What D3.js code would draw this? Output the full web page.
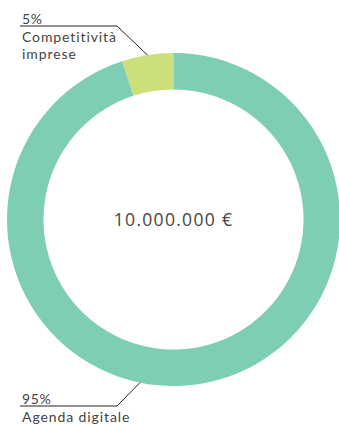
<!DOCTYPE html>
<html><head><meta charset="utf-8">
<script src="https://cdn.jsdelivr.net/npm/d3@7"></script>
<style>body{margin:0;background:#fff}svg{display:block}text{font-family:"Open Sans",Lato,sans-serif;fill:#444}text.lbl{font-family:Lato,"Open Sans",sans-serif}</style>
</head><body>
<script>
const categories = ["Competitività imprese", "Agenda digitale"];
const values = [5, 95];
const percentLabels = ["5%", "95%"];
const labelLines = [["Competitività", "imprese"], ["Agenda digitale"]];
const totalLabel = "10.000.000 €";
const colors = ["#cbe07a", "#7ecdb5"];

const W = 339, H = 425, cx = 173.5, cy = 219.5, R = 166.5, r = 130;
const svg = d3.select("body").append("svg").attr("width", W).attr("height", H);
const g = svg.append("g").attr("transform", `translate(${cx},${cy})`);
const pie = d3.pie().sort(null).startAngle(0).endAngle(-2 * Math.PI);
const arcs = pie(values);
const arc = d3.arc().innerRadius(r).outerRadius(R);
g.selectAll("path.slice").data(arcs).join("path").attr("class", "slice")
  .attr("d", arc).attr("fill", (d, i) => colors[i]);

g.append("text").attr("text-anchor", "middle").attr("y", 6)
  .style("font-size", "17.5px").style("letter-spacing", "1.3px").text(totalLabel);

// leader lines and labels
const anchorAngles = [(arcs[0].startAngle + arcs[0].endAngle) / 2, Math.PI * 1.0645];
const labelY = [26, 406];
const lineX0 = 20, lineX1 = 117;
arcs.forEach((d, i) => {
  const a = anchorAngles[i];
  const px = cx + R * Math.sin(a), py = cy - R * Math.cos(a);
  svg.append("polyline")
    .attr("points", `${lineX0},${labelY[i]} ${lineX1},${labelY[i]} ${px},${py}`)
    .attr("fill", "none").attr("stroke", "#222").attr("stroke-width", 1);
  svg.append("text").attr("class", "lbl").attr("x", 22).attr("y", labelY[i] - 2)
    .style("font-size", "14px").style("letter-spacing", "0.6px").text(percentLabels[i]);
  labelLines[i].forEach((s, j) => {
    svg.append("text").attr("class", "lbl").attr("x", 22).attr("y", labelY[i] + 16 + j * 17)
      .style("font-size", "14px").style("letter-spacing", "0.9px").text(s);
  });
});
</script>
</body></html>
